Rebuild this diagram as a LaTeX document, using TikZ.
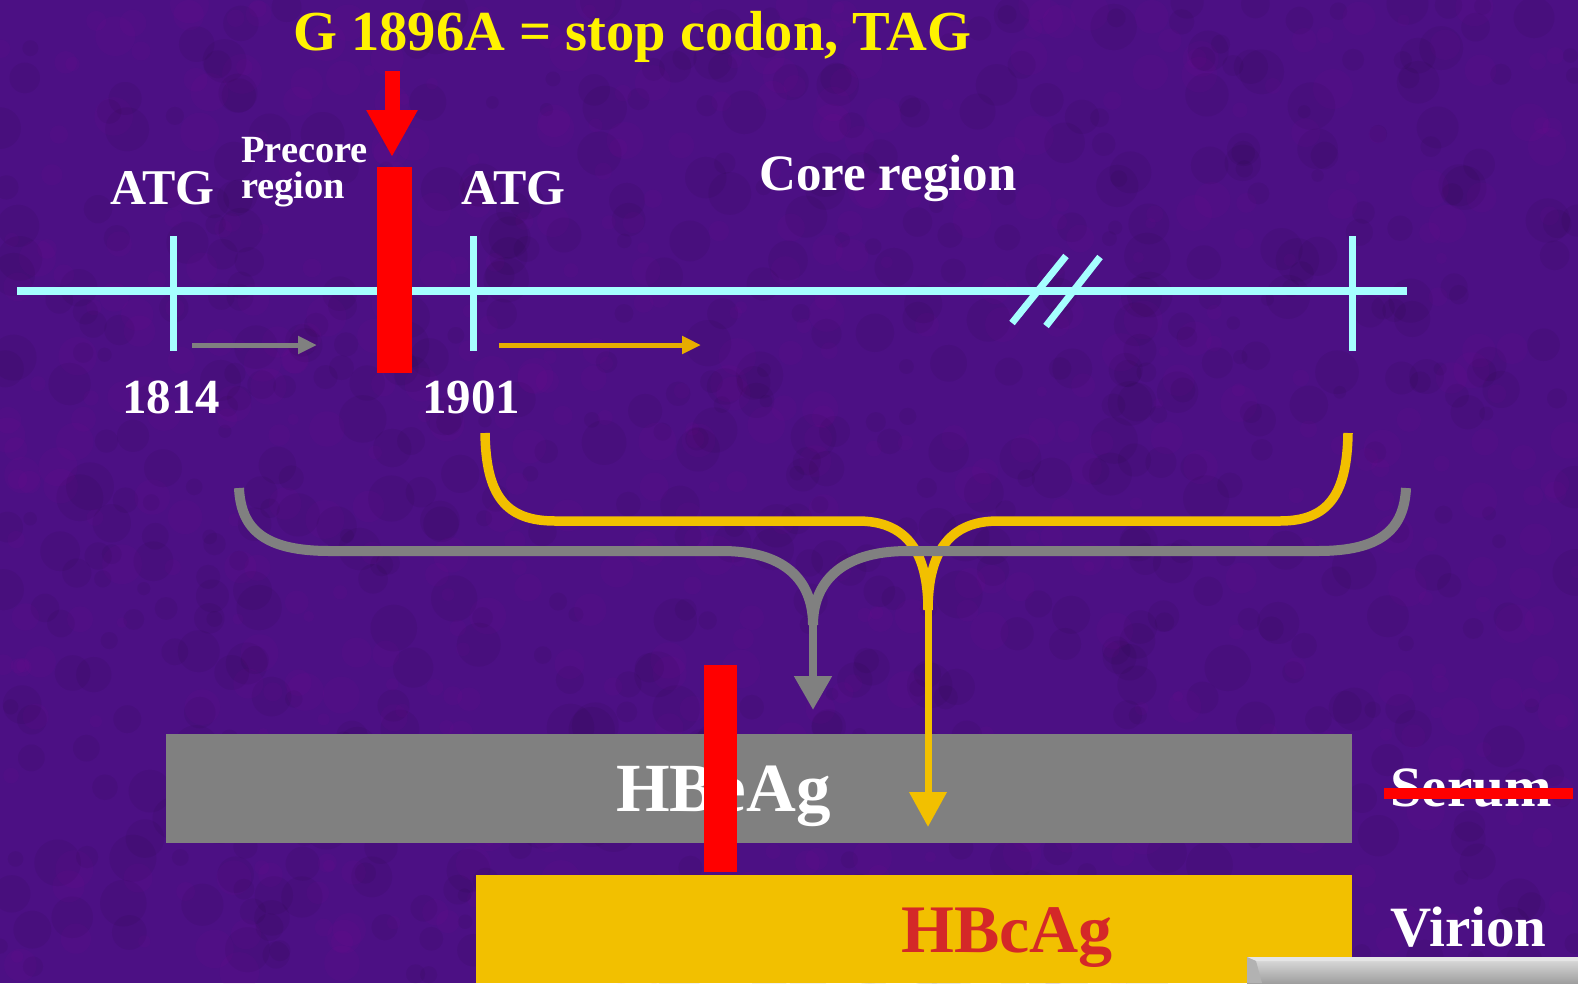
\documentclass[tikz,border=0pt]{standalone}
\usepackage{fontspec}
\setmainfont{Liberation Serif}
\usetikzlibrary{arrows.meta}
\definecolor{bgpurple}{RGB}{76,16,132}
\definecolor{cyanline}{RGB}{166,255,255}
\definecolor{grayband}{RGB}{128,128,128}
\definecolor{goldband}{RGB}{242,192,0}
\definecolor{goldarrow}{RGB}{232,172,0}
\definecolor{hbcred}{RGB}{212,40,40}
\begin{document}
\begin{tikzpicture}[x=1pt,y=-1pt,
  txt/.style={inner sep=0pt, anchor=base west, font=\bfseries},
  cyanrule/.style={draw=cyanline, line width=8pt},
  tickmark/.style={draw=cyanline, line width=7pt},
  graybrace/.style={draw=grayband, line width=10pt},
  goldbrace/.style={draw=goldband, line width=9.5pt},
  smallarrow/.style={line width=5pt, -{Triangle[length=19pt,width=17pt]}}]
\useasboundingbox (0,0) rectangle (1578,983);
\fill[bgpurple] (0,0) rectangle (1578,983);
% subtle mottled texture
\begin{scope}
\clip (0,0) rectangle (1578,983);
\pgfmathsetseed{7}
\foreach \i in {1,...,700}{
  \pgfmathsetmacro{\px}{rnd*1578}
  \pgfmathsetmacro{\py}{rnd*983}
  \pgfmathsetmacro{\pr}{6+rnd*18}
  \fill[black, opacity=0.05] (\px,\py) circle[radius=\pr];
}
\foreach \i in {1,...,600}{
  \pgfmathsetmacro{\px}{rnd*1578}
  \pgfmathsetmacro{\py}{rnd*983}
  \pgfmathsetmacro{\pr}{5+rnd*15}
  \fill[violet!70!magenta, opacity=0.05] (\px,\py) circle[radius=\pr];
}
\end{scope}

% title
\node[txt, text=yellow] (title) at (293,50) {\fontsize{56.5}{60}\selectfont G 1896A = stop codon, TAG};

% main cyan line
\coordinate (lineL) at (17,291);
\coordinate (lineR) at (1407,291);
\draw[cyanrule] (lineL) -- (lineR);
\coordinate (t1a) at (173,236); \coordinate (t1b) at (173,351);
\coordinate (t2a) at (473,236); \coordinate (t2b) at (473,351);
\coordinate (t3a) at (1352,236); \coordinate (t3b) at (1352,351);
\draw[tickmark] (t1a) -- (t1b);
\draw[tickmark] (t2a) -- (t2b);
\draw[tickmark] (t3a) -- (t3b);
% break marks
\coordinate (s1a) at (1012,323); \coordinate (s1b) at (1066,256);
\coordinate (s2a) at (1046,326); \coordinate (s2b) at (1100,257);
\draw[tickmark] (s1a) -- (s1b);
\draw[tickmark] (s2a) -- (s2b);

% red bar (mutation)
\fill[red] (377,167) rectangle (412,373);
\coordinate (rA) at (392,71);
\coordinate (rB) at (392,157);
\draw[red, line width=15pt, -{Triangle[length=47pt,width=48pt]}] (rA) -- (rB);

% small arrows
\coordinate (ga1) at (192,345); \coordinate (ga2) at (317,345);
\coordinate (ya1) at (499,345); \coordinate (ya2) at (701,345);
\draw[grayband, smallarrow] (ga1) -- (ga2);
\draw[goldarrow, smallarrow] (ya1) -- (ya2);

% labels
\node[txt, text=white] (atg1) at (110,204) {\fontsize{50}{52}\selectfont ATG};
\node[txt, text=white] (precore) at (241,162) {\fontsize{38.5}{40}\selectfont Precore};
\node[txt, text=white] (region) at (241,198) {\fontsize{38.5}{40}\selectfont region};
\node[txt, text=white] (atg2) at (461,204) {\fontsize{50}{52}\selectfont ATG};
\node[txt, text=white] (n1814) at (122,413) {\fontsize{49}{50}\selectfont 1814};
\node[txt, text=white] (n1901) at (422,413) {\fontsize{49}{50}\selectfont 1901};
\node[txt, text=white] (core) at (759,190) {\fontsize{51}{52}\selectfont Core region};

% boxes
\fill[grayband] (166,734) rectangle (1352,843);
\fill[goldband] (476,875) rectangle (1352,983);
\node[txt, text=white] (hbe) at (616,811) {\fontsize{69}{70}\selectfont HBeAg};
\node[txt, text=hbcred] (hbc) at (901,952) {\fontsize{68}{70}\selectfont HBcAg};
\node[txt, text=white] (serum) at (1390,806) {\fontsize{57}{60}\selectfont Serum};
\node[txt, text=white] (virion) at (1390,946) {\fontsize{57}{60}\selectfont Virion};
\fill[red] (1384,788) rectangle (1573,799);

% gold brace and arrow
\coordinate (yL) at (485,433);
\coordinate (yR) at (1348,433);
\coordinate (yM) at (928,610);
\coordinate (yTip) at (928,827);
\draw[goldbrace] (yL) .. controls (486,495) and (505,521) .. (555,521) -- (858,521)
   .. controls (905,521) and (928,550) .. (yM);
\draw[goldbrace] (yR) .. controls (1347,495) and (1328,521) .. (1280,521) -- (998,521)
   .. controls (951,521) and (928,550) .. (yM);
\draw[goldband, line width=7pt, -{Triangle[length=35pt,width=36pt]}] (yM) -- (yTip);

% gray brace and arrow
\coordinate (gL) at (239,488);
\coordinate (gR) at (1406,488);
\coordinate (gM) at (813,625);
\coordinate (gTip) at (813,710);
\draw[graybrace] (gL) .. controls (241,530) and (265,551) .. (330,551) -- (722,551)
   .. controls (790,551) and (813,585) .. (gM);
\draw[graybrace] (gR) .. controls (1404,530) and (1380,551) .. (1318,551) -- (908,551)
   .. controls (838,551) and (813,585) .. (gM);
\draw[grayband, line width=8pt, -{Triangle[length=34pt,width=36pt]}] (gM) -- (gTip);

% lower red bar
\fill[red] (704,665) rectangle (737,872);

% corner button
\shade[top color=gray!25, bottom color=gray!75] (1247,957) rectangle (1578,983);
\fill[white!80!gray] (1247,957) -- (1578,957) -- (1578,961) -- (1256,961) -- cycle;
\fill[gray!60] (1247,957) -- (1256,961) -- (1262,983) -- (1247,983) -- cycle;
\end{tikzpicture}
\end{document}
